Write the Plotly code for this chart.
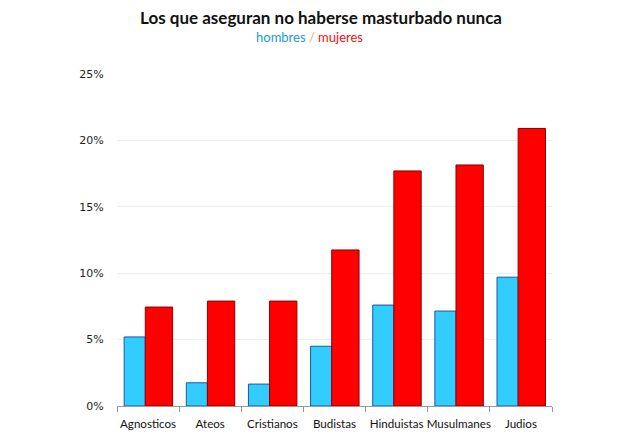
import plotly.graph_objects as go

categories = ["Agnosticos", "Ateos", "Cristianos", "Budistas", "Hinduistas", "Musulmanes", "Judios"]
hombres = [5.2, 1.75, 1.65, 4.5, 7.6, 7.15, 9.7]
mujeres = [7.45, 7.9, 7.9, 11.75, 17.7, 18.15, 20.9]
y_ticks = [0, 5, 10, 15, 20, 25]
y_tick_labels = ["0%", "5%", "10%", "15%", "20%", "25%"]

fig = go.Figure()
fig.add_trace(go.Bar(
    x=categories, y=hombres, name="hombres",
    width=0.34, offset=-0.385,
    marker=dict(color="#33CCFF", line=dict(color="#1a5a9a", width=1)),
))
fig.add_trace(go.Bar(
    x=categories, y=mujeres, name="mujeres",
    width=0.44, offset=-0.045,
    marker=dict(color="#FF0000", line=dict(color="#8B0000", width=1)),
))

fig.update_layout(
    width=640, height=448,
    margin=dict(l=109, r=96, t=66, b=50),
    paper_bgcolor="white", plot_bgcolor="white",
    barmode="overlay", showlegend=False,
    title=dict(
        text="<b>Los que aseguran no haberse masturbado nunca</b>",
        x=(321 - 8) / 640, xanchor="center", xref="container",
        y=1 - 10 / 448, yanchor="middle", yref="container",
        font=dict(family="Lato", size=17, color="#111"),
    ),
    font=dict(family="DejaVu Sans", size=11, color="#222"),
)
fig.add_annotation(
    text="<span style='color:#1a9ad6'>hombres</span> <span style='color:#e0b080'>/</span> <span style='color:#ee1111'>mujeres</span>",
    xref="paper", yref="paper", x=(309 - 117) / 435, y=1 + (74 - 37) / 332,
    xanchor="center", yanchor="middle", showarrow=False,
    font=dict(family="Lato", size=13),
)
fig.update_xaxes(
    showline=True, linecolor="#999", linewidth=1,
    ticks="outside", tickson="boundaries", ticklen=5, tickcolor="#999",
    tickfont=dict(family="Lato", size=11.6, color="#111"),
    tickangle=0, automargin=False, ticklabelstandoff=7,
    showgrid=False,
)
fig.update_yaxes(
    range=[0, 25], tickmode="array", tickvals=y_ticks, ticktext=y_tick_labels,
    showgrid=True, gridcolor="#eeeeee", gridwidth=1,
    zeroline=False, showline=False, automargin=False,
    ticks="outside", ticklen=10, tickcolor="rgba(0,0,0,0)",
    tickfont=dict(family="DejaVu Sans", size=11, color="#222"),
)

fig.write_html("out.html")
